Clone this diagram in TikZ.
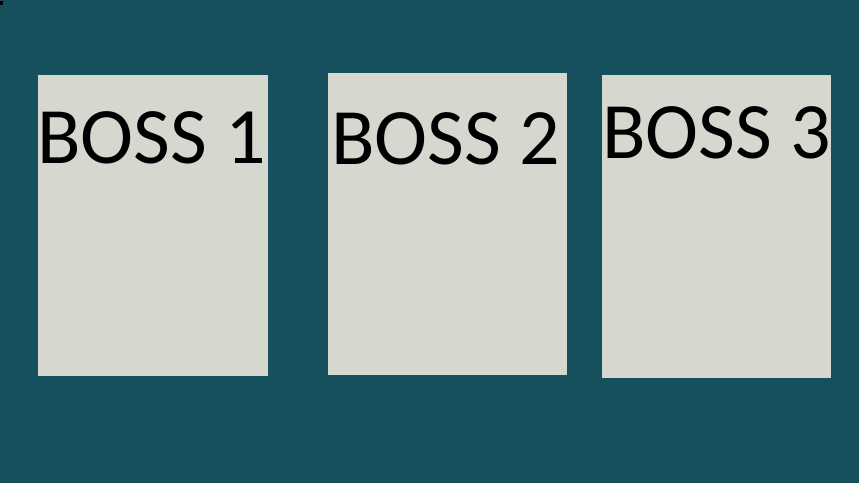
\documentclass[tikz,border=0pt]{standalone}
\usepackage{fontspec}
\setmainfont{Carlito}
\definecolor{bgteal}{RGB}{21,80,92}
\definecolor{boxgray}{RGB}{214,216,208}
\begin{document}
\begin{tikzpicture}[x=1pt,y=-1pt,
  card/.style={fill=boxgray,draw=none,inner sep=0pt,minimum width=#1},
  bosslabel/.style={anchor=base west,inner sep=0pt,font=\fontsize{80}{80}\selectfont,text=black}]
\fill[bgteal] (0,0) rectangle (859,483);
\useasboundingbox (0,0) rectangle (859,483);
\fill[black] (0,1) rectangle (3,5);
\node[card=230pt,minimum height=301pt,anchor=north west] (b1) at (38,75) {};
\node[card=239pt,minimum height=302pt,anchor=north west] (b2) at (328,73) {};
\node[card=229pt,minimum height=303pt,anchor=north west] (b3) at (602,75) {};
\node[bosslabel] (t1) at (37,163) {BOSS 1};
\node[bosslabel] (t2) at (331,164) {BOSS 2};
\node[bosslabel] (t3) at (602,158) {BOSS 3};
\end{tikzpicture}
\end{document}
